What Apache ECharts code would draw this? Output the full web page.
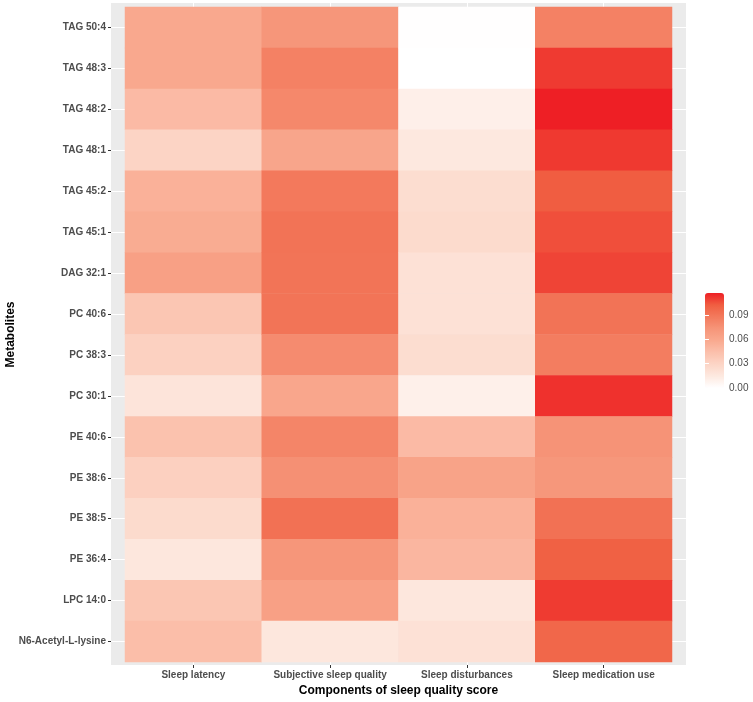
<!DOCTYPE html>
<html>
<head>
<meta charset="utf-8">
<script src="https://cdn.jsdelivr.net/npm/echarts@6/dist/echarts.min.js"></script>
<style>
  html, body { margin: 0; padding: 0; background: #ffffff; }
  #chart { width: 753px; height: 702px; }
</style>
</head>
<body>
<div id="chart"></div>
<script>
// Metabolites, listed from top to bottom as in the figure
const metabolites = ['TAG 50:4','TAG 48:3','TAG 48:2','TAG 48:1','TAG 45:2','TAG 45:1','DAG 32:1','PC 40:6','PC 38:3','PC 30:1','PE 40:6','PE 38:6','PE 38:5','PE 36:4','LPC 14:0','N6-Acetyl-L-lysine'];
const components = ['Sleep latency','Subjective sleep quality','Sleep disturbances','Sleep medication use'];

// Values per component, same order as metabolites
const sleepLatency      = [0.0596,0.0596,0.0476,0.0302,0.0537,0.0570,0.0654,0.0400,0.0323,0.0183,0.0428,0.0330,0.0253,0.0162,0.0400,0.0455];
const subjectiveQuality = [0.0725,0.0845,0.0806,0.0616,0.0885,0.0920,0.0911,0.0911,0.0788,0.0610,0.0823,0.0760,0.0931,0.0730,0.0654,0.0162];
const sleepDisturbances = [0.0005,-0.0010,0.0105,0.0155,0.0238,0.0253,0.0204,0.0204,0.0238,0.0098,0.0476,0.0635,0.0537,0.0503,0.0162,0.0204];
const medicationUse     = [0.0845,0.1113,0.1175,0.1115,0.1030,0.1062,0.1088,0.0916,0.0863,0.1132,0.0743,0.0719,0.0931,0.1012,0.1110,0.0981];

const legendTicks = [0, 0.03, 0.06, 0.09];
const scaleMin = 0;
const scaleMax = 0.1175;

const columns = [sleepLatency, subjectiveQuality, sleepDisturbances, medicationUse];
const cells = [];
columns.forEach((vals, ci) => {
  vals.forEach((v, ri) => { cells.push([ci, ri, v]); });
});

const FONT = '"Liberation Sans", Arial, Helvetica, sans-serif';
const chart = echarts.init(document.getElementById('chart'), null, { renderer: 'canvas' });

const hiddenCat = (extra) => Object.assign({
  type: 'category',
  data: metabolites,
  inverse: true,
  gridIndex: 0,
  axisLine: { show: false },
  axisLabel: { show: false },
  splitLine: { show: false },
  axisTick: { show: false }
}, extra);

chart.setOption({
  backgroundColor: '#ffffff',
  animation: false,
  graphic: [{
    type: 'rect',
    z: -10,
    silent: true,
    shape: { x: 111, y: 3, width: 575, height: 662 },
    style: { fill: '#EBEBEB' }
  }],
  grid: [
    { left: 125, top: 7, width: 547, height: 655, containLabel: false, outerBoundsMode: 'none' },
    { left: 705, top: 293, width: 19, height: 95, containLabel: false, outerBoundsMode: 'none' }
  ],
  xAxis: [
    { type: 'category', data: components, gridIndex: 0, position: 'bottom',
      axisLine: { show: false }, axisLabel: { show: false }, splitLine: { show: false },
      axisTick: { show: true, alignWithLabel: true, interval: 0, length: 3, lineStyle: { color: '#ffffff', width: 1 } } },
    { type: 'category', data: components, gridIndex: 0, position: 'bottom', offset: 3,
      axisLine: { show: false }, splitLine: { show: false },
      axisTick: { show: true, alignWithLabel: true, interval: 0, length: 3, lineStyle: { color: '#333333', width: 1 } },
      axisLabel: { show: true, interval: 0, margin: 5, color: '#4D4D4D', fontSize: 10, fontWeight: 'bold', fontFamily: FONT },
      name: 'Components of sleep quality score', nameLocation: 'middle', nameGap: 20, nameMoveOverlap: false,
      nameTextStyle: { color: '#000000', fontSize: 12, fontWeight: 'bold', fontFamily: FONT } },
    { type: 'category', data: components, gridIndex: 0, position: 'top',
      axisLine: { show: false }, axisLabel: { show: false }, splitLine: { show: false },
      axisTick: { show: true, alignWithLabel: true, interval: 0, length: 4, lineStyle: { color: '#ffffff', width: 1 } } },
    { type: 'value', gridIndex: 1, show: false, min: 0, max: 1 }
  ],
  yAxis: [
    hiddenCat({ position: 'left',
      axisTick: { show: true, alignWithLabel: true, interval: 0, length: 14, lineStyle: { color: '#ffffff', width: 1 } } }),
    hiddenCat({ position: 'left', offset: 14,
      axisTick: { show: true, alignWithLabel: true, interval: 0, length: 3, lineStyle: { color: '#333333', width: 1 } },
      axisLabel: { show: true, interval: 0, margin: 5, color: '#4D4D4D', fontSize: 10, fontWeight: 'bold', fontFamily: FONT },
      name: 'Metabolites', nameLocation: 'middle', nameGap: 94, nameRotate: 90, nameMoveOverlap: false,
      nameTextStyle: { color: '#000000', fontSize: 12, fontWeight: 'bold', fontFamily: FONT } }),
    hiddenCat({ position: 'right',
      axisTick: { show: true, alignWithLabel: true, interval: 0, length: 14, lineStyle: { color: '#ffffff', width: 1 } } }),
    { type: 'value', gridIndex: 1, position: 'right', min: scaleMin, max: scaleMax, z: 10,
      axisLine: { show: false }, splitLine: { show: false },
      axisTick: { show: true, inside: true, length: 4, customValues: legendTicks, lineStyle: { color: '#ffffff', width: 1 } },
      axisLabel: { show: true, inside: false, margin: 5, customValues: legendTicks, color: '#4D4D4D', fontSize: 10, fontFamily: FONT,
        formatter: (v) => v.toFixed(2) } },
    { type: 'value', gridIndex: 1, position: 'left', min: scaleMin, max: scaleMax, z: 10,
      axisLine: { show: false }, splitLine: { show: false }, axisLabel: { show: false },
      axisTick: { show: true, inside: true, length: 4, customValues: legendTicks, lineStyle: { color: '#ffffff', width: 1 } } }
  ],
  visualMap: {
    type: 'continuous',
    min: scaleMin,
    max: scaleMax,
    dimension: 2,
    seriesIndex: 0,
    calculable: false,
    left: 705,
    top: 293,
    padding: 0,
    itemWidth: 19,
    itemHeight: 95,
    text: null,
    showLabel: false,
    inRange: { color: ['#FFFFFF','#FDE9E0','#FCD5C6','#FBC0AC','#F9A98F','#F69579','#F37A5D','#F05E41','#EE1F25'] },
    outOfRange: { color: '#F8F7FC' }
  },
  series: [{
    type: 'heatmap',
    xAxisIndex: 0,
    yAxisIndex: 0,
    data: cells,
    itemStyle: { borderWidth: 0 },
    emphasis: { disabled: true }
  }]
});
</script>
</body>
</html>
